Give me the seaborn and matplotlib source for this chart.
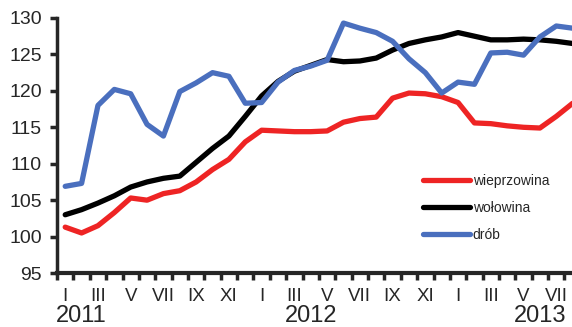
import numpy as np
import pandas as pd
import seaborn as sns
import matplotlib.pyplot as plt
import matplotlib.transforms as mtransforms

# monthly index values, I 2011 .. VIII 2013
months = ['I', 'II', 'III', 'IV', 'V', 'VI', 'VII', 'VIII', 'IX', 'X', 'XI', 'XII'] * 2 + \
         ['I', 'II', 'III', 'IV', 'V', 'VI', 'VII', 'VIII']
wieprzowina = [101.3, 100.5, 101.5, 103.3, 105.3, 105.0, 105.9, 106.3, 107.5, 109.2, 110.6, 113.0,
               114.6, 114.5, 114.4, 114.4, 114.5, 115.7, 116.2, 116.4, 119.0, 119.7, 119.6, 119.2,
               118.4, 115.6, 115.5, 115.2, 115.0, 114.9, 116.5, 118.3]
wolowina = [103.0, 103.7, 104.6, 105.6, 106.8, 107.5, 108.0, 108.3, 110.2, 112.1, 113.8, 116.5,
            119.3, 121.3, 122.7, 123.5, 124.3, 124.0, 124.1, 124.5, 125.6, 126.5, 127.0, 127.4,
            128.0, 127.5, 127.0, 127.0, 127.1, 127.0, 126.8, 126.5]
drob = [106.9, 107.3, 118.0, 120.2, 119.6, 115.4, 113.8, 119.9, 121.1, 122.5, 122.0, 118.3,
        118.4, 121.2, 122.8, 123.4, 124.2, 129.3, 128.6, 128.0, 126.8, 124.4, 122.5, 119.7,
        121.2, 120.9, 125.2, 125.3, 124.9, 127.4, 128.9, 128.6]
series = ['wieprzowina', 'wołowina', 'drób']
colors = ['#EE2424', '#000000', '#4A6FBE']
years = ['2011', '2012', '2013']
year_pos = [1, 15, 29]

n = len(months)
df = pd.DataFrame({
    'i': list(range(n)) * 3,
    'value': wieprzowina + wolowina + drob,
    'series': [series[0]] * n + [series[1]] * n + [series[2]] * n,
})

sns.set_style('ticks')
plt.rcParams['font.family'] = ['Liberation Sans', 'DejaVu Sans']

fig = plt.figure(figsize=(5.72, 3.27), dpi=100)
ax = fig.add_axes([0.0997, 0.165, 0.9003, 0.78])

sns.lineplot(data=df, x='i', y='value', hue='series', hue_order=series,
             palette=colors, linewidth=3.8, ax=ax, legend=False,
             solid_joinstyle='round', solid_capstyle='round')

ax.set_xlim(-0.5, 30.96)
ax.set_ylim(95, 130)
ax.set_yticks(np.arange(95, 131, 5))
ax.set_xlabel('')
ax.set_ylabel('')

# tick marks on month boundaries, labels on odd months
ax.set_xticks(np.arange(-0.5, 31, 1))
ax.set_xticklabels([])
ax.set_xticks(range(0, n, 2), minor=True)
ax.set_xticklabels(months[0:n:2], minor=True)
ax.tick_params(axis='x', which='major', length=5, width=2.5, direction='out')
ax.tick_params(axis='x', which='minor', length=0, labelsize=13.5, pad=11)
ax.tick_params(axis='y', length=5, width=2.5, labelsize=14, pad=6)

for s in ['top', 'right']:
    ax.spines[s].set_visible(False)
ax.spines['left'].set_linewidth(2.5)
ax.spines['bottom'].set_linewidth(3)

trans = mtransforms.blended_transform_factory(ax.transData, fig.transFigure)
for y, p in zip(years, year_pos):
    ax.text(p, 0.014, y, transform=trans, ha='center', va='baseline', fontsize=17)

handles = [plt.Line2D([], [], color=c, linewidth=3.8) for c in colors]
ax.legend(handles, series, loc='upper left', bbox_to_anchor=(0.71, 0.39),
          frameon=False, fontsize=10, handlelength=3.4, handletextpad=0.2,
          labelspacing=0.95, borderpad=0, borderaxespad=0)

plt.savefig('out.png', dpi=100)
